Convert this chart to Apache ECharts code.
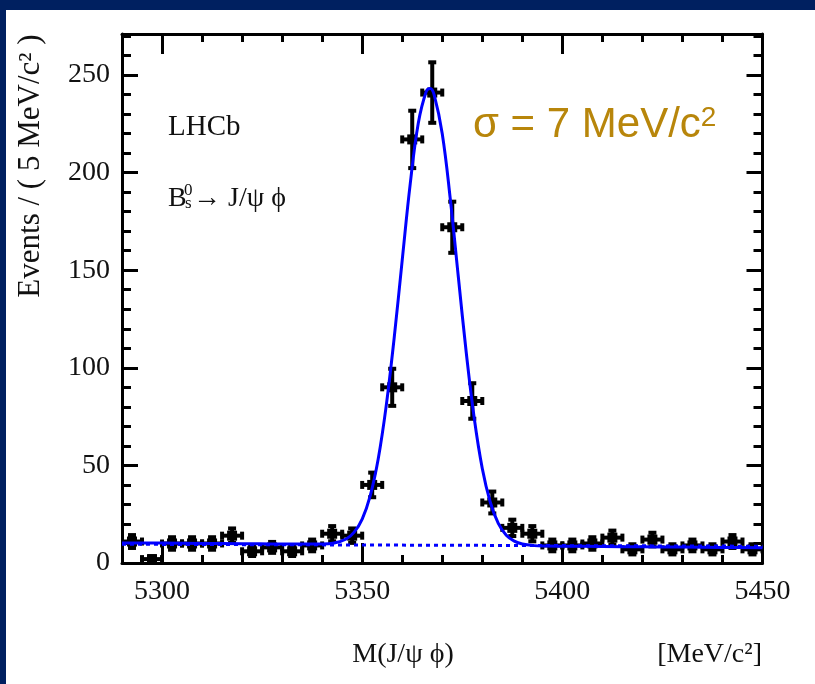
<!DOCTYPE html>
<html>
<head>
<meta charset="utf-8">
<script src="https://cdn.jsdelivr.net/npm/echarts@6/dist/echarts.min.js"></script>
<style>
html,body{margin:0;padding:0;background:#002060;}
#frame{position:absolute;left:6px;top:10px;width:809px;height:674px;background:#fff;}
#chart{position:absolute;left:0;top:0;width:815px;height:684px;}
</style>
</head>
<body>
<div id="frame"></div>
<div id="chart"></div>
<script>
// ---- data ----
const binCenters = [5292.5,5297.5,5302.5,5307.5,5312.5,5317.5,5322.5,5327.5,5332.5,5337.5,5342.5,5347.5,5352.5,5357.5,5362.5,5367.5,5372.5,5377.5,5382.5,5387.5,5392.5,5397.5,5402.5,5407.5,5412.5,5417.5,5422.5,5427.5,5432.5,5437.5,5442.5,5447.5];
const events = [11,2,10,10,10,14,6,8,6,9,15,14,40,90,217,241,172,83,31,18,15,9,9,10,13,7,12,7,9,7,11,7];
const errors = [3.3,1.4,3.2,3.2,3.2,3.7,2.4,2.8,2.4,3.0,3.9,3.7,6.3,9.5,14.7,15.5,13.1,9.1,5.6,4.2,3.9,3.0,3.0,3.2,3.6,2.6,3.5,2.6,3.0,2.6,3.3,2.6];
const binHalfWidth = 2.5;

const fitX = [5290,5300,5310,5320,5330,5336,5340,5343,5346,5348,5350,5352,5354,5356,5358,5360,5362,5364,5366,5367,5368,5370,5372,5374,5376,5378,5380,5382,5384,5386,5388,5390,5393,5396,5400,5410,5420,5430,5440,5450];
const fitY = [10.3,10.2,10.0,9.9,9.7,9.7,9.7,10.2,12.3,15.8,22.5,34.4,53.3,80.5,115.5,155.2,194.2,225.2,241.6,243.1,239.7,219.9,186.6,146.9,107.7,74.0,48.4,31.1,20.3,14.2,11.2,9.7,8.9,8.7,8.6,8.45,8.3,8.15,8.0,7.85];

const bgX = [5290,5450];
const bgY = [9.6,8.6];

const xTickLabels = [5300,5350,5400,5450];
const yTickLabels = [0,50,100,150,200,250];

const xMin = 5290, xMax = 5450, yMin = 0, yMax = 271;

// ---- build ----
const serif = '"Liberation Serif", "DejaVu Serif", serif';
const pointData = binCenters.map((x,i)=>[x, events[i], errors[i]]);
const fitData = fitX.map((x,i)=>[x, fitY[i]]);
const bgData = bgX.map((x,i)=>[x, bgY[i]]);

function xAx(pos, ticks, len, showLine, showLabel){
  const a = {type:'value', min:xMin, max:xMax, position:pos, interval:10,
    axisLine:{show:showLine, onZero:false, lineStyle:{color:'#000', width:3}},
    axisTick:{show:true, inside:true, length:len, lineStyle:{color:'#000', width:3}},
    axisLabel:{show:showLabel, fontFamily:serif, fontSize:28, color:'#111', margin:15,
      formatter:function(v){return String(v);}},
    splitLine:{show:false}};
  if (ticks) a.axisTick.customValues = ticks;
  if (showLabel) a.axisLabel.customValues = xTickLabels;
  return a;
}
function yAx(pos, ticks, len, showLine, showLabel){
  const a = {type:'value', min:yMin, max:yMax, position:pos, interval:10,
    axisLine:{show:showLine, onZero:false, lineStyle:{color:'#000', width:3}},
    axisTick:{show:true, inside:true, length:len, lineStyle:{color:'#000', width:3}},
    axisLabel:{show:showLabel, fontFamily:serif, fontSize:28, color:'#111', margin:12,
      formatter:function(v){return String(v);}},
    splitLine:{show:false}};
  if (ticks) a.axisTick.customValues = ticks;
  if (showLabel) a.axisLabel.customValues = yTickLabels;
  return a;
}

const chart = echarts.init(document.getElementById('chart'), null, {renderer:'canvas'});
chart.setOption({
  backgroundColor:'transparent',
  animation:false,
  grid:{left:122, top:34, right:52.5, bottom:121, containLabel:false},
  xAxis:[
    xAx('bottom', null, 8, true, true),
    xAx('bottom', xTickLabels, 20, false, false),
    xAx('top', null, 8, true, false),
    xAx('top', xTickLabels, 20, false, false)
  ],
  yAxis:[
    yAx('left', null, 9, true, true),
    yAx('left', yTickLabels, 16, false, false),
    yAx('right', null, 9, true, false),
    yAx('right', yTickLabels, 16, false, false)
  ],
  series:[
    {
      type:'custom', xAxisIndex:0, yAxisIndex:0, clip:true, z:2,
      data: pointData,
      renderItem:function(params, api){
        const x = api.value(0), y = api.value(1), e = api.value(2);
        const c = api.coord([x, y]);
        const l = api.coord([x - binHalfWidth, y]);
        const r = api.coord([x + binHalfWidth, y]);
        const t = api.coord([x, y + e]);
        const b = api.coord([x, y - e]);
        const st = {stroke:'#000', lineWidth:4};
        const cap = 4;
        return {type:'group', children:[
          {type:'line', shape:{x1:l[0], y1:c[1], x2:r[0], y2:c[1]}, style:st},
          {type:'line', shape:{x1:c[0], y1:t[1], x2:c[0], y2:b[1]}, style:st},
          {type:'line', shape:{x1:l[0], y1:c[1]-cap, x2:l[0], y2:c[1]+cap}, style:st},
          {type:'line', shape:{x1:r[0], y1:c[1]-cap, x2:r[0], y2:c[1]+cap}, style:st},
          {type:'line', shape:{x1:c[0]-cap, y1:t[1], x2:c[0]+cap, y2:t[1]}, style:st},
          {type:'line', shape:{x1:c[0]-cap, y1:b[1], x2:c[0]+cap, y2:b[1]}, style:st},
          {type:'rect', shape:{x:c[0]-5, y:c[1]-5, width:10, height:10}, style:{fill:'#000'}}
        ]};
      }
    },
    {
      type:'line', xAxisIndex:0, yAxisIndex:0, data:bgData, symbol:'none', z:3,
      lineStyle:{color:'#0000ff', width:3, type:[4,4]}
    },
    {
      type:'line', xAxisIndex:0, yAxisIndex:0, data:fitData, symbol:'none', smooth:0.4, z:4,
      lineStyle:{color:'#0000ff', width:3}
    }
  ],
  graphic:[
    {type:'text', x:31, y:166, rotation:Math.PI/2, z:10,
      style:{text:'Events / ( 5 MeV/c² )', font:'31px "Liberation Serif"', fill:'#111', align:'center', verticalAlign:'middle'}},
    {type:'text', x:403, y:655, z:10,
      style:{text:'M(J/ψ ϕ)', font:'28px "Liberation Serif"', fill:'#111', align:'center', verticalAlign:'middle'}},
    {type:'text', x:762, y:655, z:10,
      style:{text:'[MeV/c²]', font:'28px "Liberation Serif"', fill:'#111', align:'right', verticalAlign:'middle'}},
    {type:'text', x:168, y:127, z:10,
      style:{text:'LHCb', font:'29px "Liberation Serif"', fill:'#111', align:'left', verticalAlign:'middle'}},
    {type:'text', x:168, y:199, z:10,
      style:{text:'B', font:'28px "Liberation Serif"', fill:'#111', align:'left', verticalAlign:'middle'}},
    {type:'text', x:184, y:191, z:10,
      style:{text:'0', font:'17px "Liberation Serif"', fill:'#111', align:'left', verticalAlign:'middle'}},
    {type:'text', x:185, y:204, z:10,
      style:{text:'s', font:'17px "Liberation Serif"', fill:'#111', align:'left', verticalAlign:'middle'}},
    {type:'text', x:193, y:199, z:10,
      style:{text:'→ J/ψ ϕ', font:'28px "Liberation Serif"', fill:'#111', align:'left', verticalAlign:'middle'}},
    {type:'text', x:473, y:125, z:10,
      style:{text:'{a|σ = 7 MeV/c}{b|2}', fill:'#b8860b', align:'left', verticalAlign:'middle',
        rich:{a:{font:'42px "Liberation Sans"', fill:'#b8860b'}, b:{font:'28px "Liberation Sans"', fill:'#b8860b', verticalAlign:'top'}}}}
  ]
});
</script>
</body>
</html>
